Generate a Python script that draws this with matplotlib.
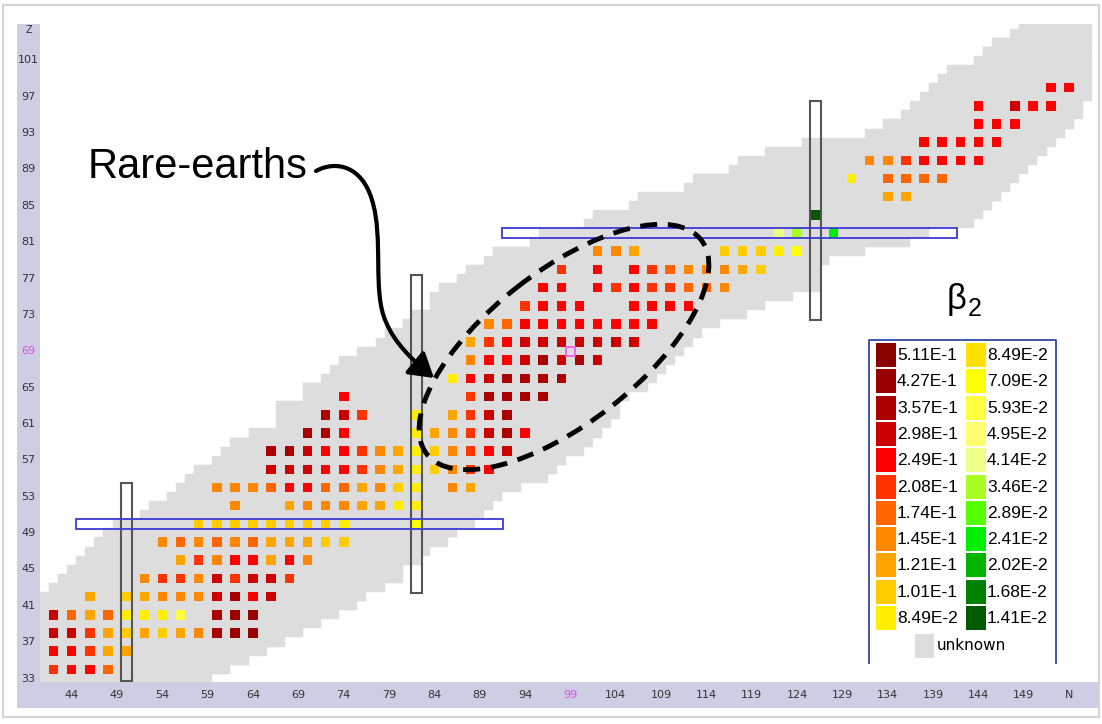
import matplotlib
matplotlib.use("Agg")
import matplotlib.pyplot as plt
from matplotlib.patches import Rectangle, Ellipse, FancyArrowPatch
from matplotlib.path import Path

plt.rcParams['font.family'] = ['Liberation Sans', 'DejaVu Sans']

# legend classes of beta2 (lower bound of each colour band, high to low)
legend_vals = [5.11e-1, 4.27e-1, 3.57e-1, 2.98e-1, 2.49e-1, 2.08e-1, 1.74e-1, 1.45e-1,
               1.21e-1, 1.01e-1, 8.49e-2, 8.49e-2, 7.09e-2, 5.93e-2, 4.95e-2, 4.14e-2,
               3.46e-2, 2.89e-2, 2.41e-2, 2.02e-2, 1.68e-2, 1.41e-2]
legend_labels = ['5.11E-1', '4.27E-1', '3.57E-1', '2.98E-1', '2.49E-1', '2.08E-1',
                 '1.74E-1', '1.45E-1', '1.21E-1', '1.01E-1', '8.49E-2', '8.49E-2',
                 '7.09E-2', '5.93E-2', '4.95E-2', '4.14E-2', '3.46E-2', '2.89E-2',
                 '2.41E-2', '2.02E-2', '1.68E-2', '1.41E-2']
legend_colors = ['#8b0000', '#990000', '#aa0000', '#cc0000', '#ff0000', '#ff3300',
                 '#ff6600', '#ff8800', '#ffa500', '#ffcc00', '#ffee00', '#ffe000',
                 '#ffff00', '#ffff40', '#ffff70', '#eeff88', '#aaff22', '#55ff00',
                 '#00ee00', '#00b400', '#008000', '#005a00']

# known nuclides per Z (N range), drawn as "unknown" background
gray_z = list(range(33, 106))
gray_nmin = [30, 30, 31, 32, 34, 35, 37, 38, 39, 41,
             42, 43, 44, 45, 46, 47, 48, 49, 52, 53,
             55, 56, 57, 58, 60, 61, 62, 64, 67, 67,
             67, 70, 70, 72, 73, 74, 76, 78, 79, 81,
             82, 84, 84, 85, 87, 88, 90, 91, 95, 96,
             101, 102, 106, 107, 112, 113, 117, 118, 121, 125,
             132, 134, 136, 137, 138, 139, 140, 141, 144, 145,
             146, 148, 149]
gray_nmax = [59, 61, 63, 65, 67, 69, 71, 73, 75, 76,
             78, 80, 80, 82, 83, 85, 86, 88, 89, 90,
             91, 93, 96, 97, 98, 100, 101, 102, 103, 104,
             104, 105, 107, 108, 109, 110, 111, 112, 113, 115,
             118, 120, 123, 126, 126, 126, 127, 131, 136, 138,
             143, 144, 145, 146, 147, 148, 149, 150, 151, 152,
             153, 154, 155, 155, 156, 156, 156, 156, 156, 156,
             156, 156, 156]

# even-even nuclei with measured beta2
sq_z = [34, 36, 38, 40, 42, 44, 46, 48, 50, 52, 54, 56, 58, 60, 62, 64, 66,
        68, 70, 72, 74, 76, 78, 80, 82, 84, 86, 88, 90, 92, 94, 96, 98]
sq_n = [
    [42, 44, 46, 48],
    [42, 44, 46, 48, 50],
    [42, 44, 46, 48, 50, 52, 54, 56, 58, 60, 62, 64],
    [42, 44, 46, 48, 50, 52, 54, 56, 60, 62, 64],
    [46, 50, 52, 54, 56, 58, 60, 62, 64, 66],
    [52, 54, 56, 58, 60, 62, 64, 66, 68],
    [56, 58, 60, 62, 64, 66, 68, 70],
    [54, 56, 58, 60, 62, 64, 66, 68, 70, 72, 74],
    [58, 60, 62, 64, 66, 68, 70, 72, 74, 82],
    [62, 68, 70, 72, 74, 76, 78, 80, 82],
    [60, 62, 64, 66, 68, 70, 72, 74, 76, 78, 80, 82, 86, 88],
    [66, 68, 70, 72, 74, 76, 78, 80, 82, 84, 86, 88, 90],
    [66, 68, 70, 72, 74, 76, 78, 80, 82, 84, 86, 88, 90, 92],
    [70, 72, 74, 82, 84, 86, 88, 90, 92, 94],
    [72, 74, 76, 82, 86, 88, 90, 92],
    [74, 88, 90, 92, 94, 96],
    [86, 88, 90, 92, 94, 96, 98],
    [88, 90, 92, 94, 96, 98, 100, 102],
    [88, 90, 92, 94, 96, 98, 100, 102, 104, 106],
    [90, 92, 94, 96, 98, 100, 102, 104, 106, 108],
    [94, 96, 98, 100, 106, 108, 110, 112],
    [96, 98, 102, 104, 106, 108, 110, 112, 114, 116],
    [98, 102, 106, 108, 110, 112, 114, 116, 118, 120],
    [102, 104, 106, 116, 118, 120, 122, 124],
    [122, 124, 128],
    [126],
    [134, 136],
    [130, 134, 136, 138, 140],
    [132, 134, 136, 138, 140, 142, 144],
    [138, 140, 142, 144, 146],
    [144, 146, 148],
    [144, 148, 150, 152],
    [152, 154],
]
sq_beta = [
    [.23, .27, .27, .19],
    [.27, .27, .23, .13, .13],
    [.32, .30, .23, .13, .11, .13, .11, .13, .16, .40, .46, .46],
    [.30, .19, .14, .19, .09, .09, .09, .062, .40, .46, .46],
    [.13, .11, .13, .16, .16, .16, .32, .40, .27, .33],
    [.16, .22, .22, .16, .30, .22, .30, .33, .22],
    [.13, .21, .16, .27, .27, .13, .27, .15],
    [.16, .18, .16, .18, .16, .18, .13, .13, .13, .11, .11],
    [.11, .11, .11, .11, .11, .11, .11, .105, .10, .075],
    [.16, .13, .16, .17, .16, .13, .13, .09, .088],
    [.16, .16, .17, .20, .27, .27, .20, .19, .13, .15, .11, .09, .16, .13],
    [.34, .33, .30, .27, .27, .22, .16, .13, .09, .11, .16, .22, .27],
    [.36, .40, .31, .27, .27, .22, .16, .13, .095, .12, .16, .22, .27, .33],
    [.38, .40, .28, .09, .13, .16, .22, .30, .38, .27],
    [.40, .31, .22, .09, .13, .21, .33, .40],
    [.27, .22, .38, .40, .40, .38],
    [.088, .27, .33, .38, .38, .38, .38],
    [.17, .29, .29, .33, .38, .33, .38, .33],
    [.13, .22, .27, .31, .33, .33, .31, .33, .33, .33],
    [.16, .19, .27, .27, .29, .27, .29, .29, .29, .29],
    [.24, .27, .29, .27, .27, .27, .27, .26],
    [.25, .27, .27, .23, .27, .22, .21, .19, .18, .16],
    [.21, .27, .27, .21, .19, .16, .16, .155, .13, .12],
    [.16, .16, .13, .11, .11, .11, .09, .078],
    [.045, .036, .025],
    [.015],
    [.13, .13],
    [.09, .19, .19, .19, .20],
    [.16, .16, .23, .27, .27, .27, .27],
    [.27, .27, .27, .27, .27],
    [.28, .28, .28],
    [.28, .34, .28, .28],
    [.28, .28],
]

z_ticks = list(range(33, 102, 4))
n_ticks = list(range(44, 150, 5))

GRAY = '#dddddd'
LAV = '#cdcde4'
W, H = 1102, 724


def beta_color(b):
    for v, c in zip(legend_vals, legend_colors):
        if b >= v:
            return c
    return legend_colors[-1]


fig = plt.figure(figsize=(W / 100, H / 100), dpi=100)


def px_axes(x0, y0, x1, y1):
    return fig.add_axes([x0 / W, 1 - y1 / H, (x1 - x0) / W, (y1 - y0) / H])


ax = px_axes(40, 24, 1100, 682)
ax.set_xlim(40.5, 157.4)
ax.set_ylim(32.6, 105.0)
ax.axis('off')

widths = [hi - lo + 1 for lo, hi in zip(gray_nmin, gray_nmax)]
ax.barh(gray_z, widths, left=[lo - 0.5 for lo in gray_nmin], height=1.0,
        color=GRAY, edgecolor=GRAY, linewidth=0.3)

for z, ns, bs in zip(sq_z, sq_n, sq_beta):
    ax.bar(ns, [1.05] * len(ns), bottom=z - 0.525, width=1.05,
           color=[beta_color(b) for b in bs], linewidth=0)

# closed shells
for x, y0, y1 in [(50, 32.7, 54.5), (82, 42.4, 77.4), (126, 72.4, 96.5)]:
    ax.add_patch(Rectangle((x - 0.62, y0), 1.24, y1 - y0, fill=False,
                           ec='#555555', lw=1.5, zorder=5))
for y, x0, x1 in [(50, 44.5, 91.6), (82, 91.5, 141.6)]:
    ax.add_patch(Rectangle((x0, y - 0.55), x1 - x0, 1.1, fill=False,
                           ec='#3a3ad8', lw=1.3, zorder=5))
ax.add_patch(Rectangle((98.5, 68.5), 1.0, 1.0, fill=False, ec='#ee55ee', lw=1.2, zorder=6))

# axis strips
axz = px_axes(17, 24, 40, 708)
axz.set_facecolor(LAV)
axz.set_xlim(0, 1)
axz.set_ylim(29.76, 105.0)
axz.set_xticks([])
axz.set_yticks([])
for s in axz.spines.values():
    s.set_visible(False)
for z in z_ticks:
    axz.text(0.5, z, str(z), ha='center', va='center', fontsize=8,
             family='DejaVu Sans', color='#ee44ee' if z == 69 else '#333333')
axz.text(0.5, 104.3, 'Z', ha='center', va='center', fontsize=7,
         family='DejaVu Sans', color='#333333')

axn = px_axes(17, 682, 1100, 708)
axn.set_facecolor(LAV)
axn.set_xlim(37.98, 157.39)
axn.set_ylim(0, 1)
axn.set_xticks([])
axn.set_yticks([])
for s in axn.spines.values():
    s.set_visible(False)
for n in n_ticks:
    axn.text(n, 0.5, str(n), ha='center', va='center', fontsize=8,
             family='DejaVu Sans', color='#ee44ee' if n == 99 else '#333333')
axn.text(154, 0.5, 'N', ha='center', va='center', fontsize=8,
         family='DejaVu Sans', color='#333333')

# overlay in pixel units for annotations and legend
lay = px_axes(0, 0, W, H)
lay.set_xlim(0, W)
lay.set_ylim(H, 0)
lay.axis('off')
lay.patch.set_alpha(0)

lay.plot([3, 1099, 1099, 3, 3], [5, 5, 717, 717, 5], color='#d4d4d4', lw=1.5)

lay.text(88, 178, 'Rare-earths', fontsize=30, va='baseline', ha='left')
verts = [(316, 171), (336, 160), (362, 166), (372, 200),
         (384, 238), (372, 292), (386, 322),
         (394, 342), (412, 360), (434, 378)]
codes = [Path.MOVETO] + [Path.CURVE4] * 9
lay.add_patch(FancyArrowPatch(path=Path(verts, codes),
                              arrowstyle='-|>,head_length=0.9,head_width=0.55',
                              mutation_scale=16, lw=3, color='k', zorder=8))
lay.add_patch(Ellipse((564, 347), 348, 152, angle=-38, fill=False, ec='k', lw=3.5,
                      ls=(0, (3.5, 2.2)), zorder=8))

lay.text(947, 309, 'β', fontsize=25, va='baseline', ha='left')
lay.text(968, 316, '2', fontsize=18, va='baseline', ha='left')

# legend
lay.plot([869, 869, 1056, 1056], [663, 340, 340, 663], color='#3545a5', lw=1.3)
for i, (lab, c) in enumerate(zip(legend_labels, legend_colors)):
    col, row = divmod(i, 11)
    x = 876 + col * 90
    y = 343 + row * 26.3
    lay.add_patch(Rectangle((x, y), 20, 24, color=c, lw=0))
    lay.text(x + 21, y + 12.5, lab, fontsize=12.5, va='center', ha='left')
lay.add_patch(Rectangle((915, 634), 19, 24, color=GRAY, lw=0))
lay.text(937, 646, 'unknown', fontsize=11, va='center', ha='left', family='DejaVu Sans')

fig.savefig('out.png', dpi=100)
